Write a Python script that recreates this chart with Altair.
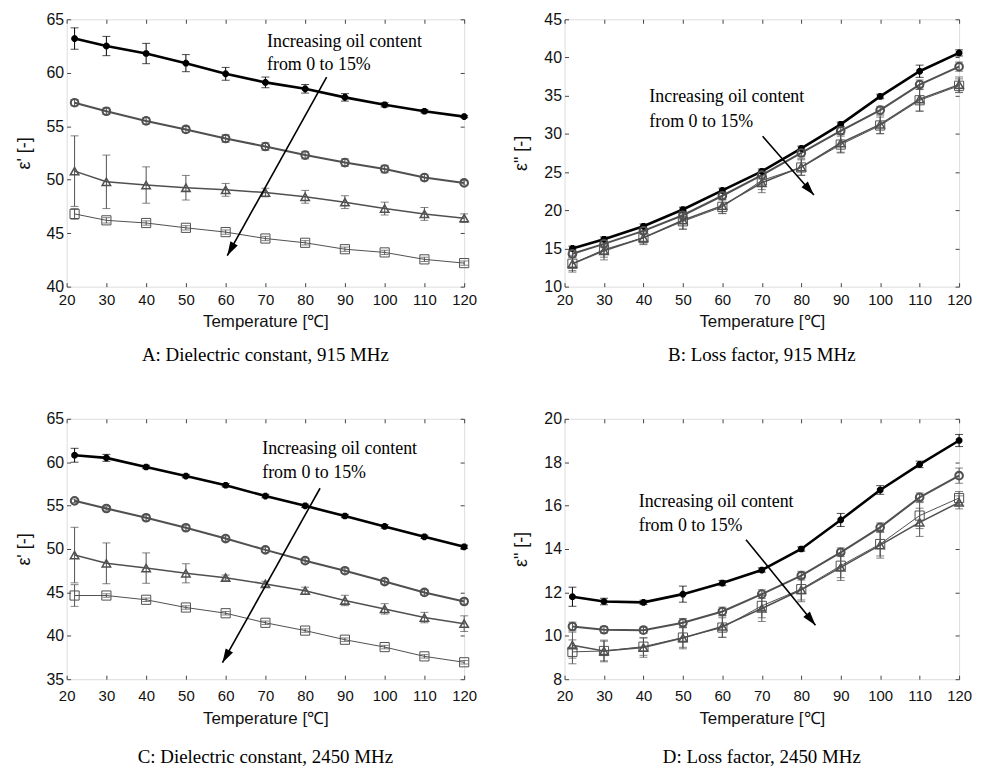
import math
import altair as alt
import pandas as pd

T = [22, 30, 40, 50, 60, 70, 80, 90, 100, 110, 120]
SERIES = ["0%", "5%", "10%", "15%"]
X_TICKS = [20, 30, 40, 50, 60, 70, 80, 90, 100, 110, 120]

# ---- Panel A: dielectric constant, 915 MHz
A_star = [63.2, 62.5, 61.8, 60.9, 59.9, 59.1, 58.5, 57.7, 57.0, 56.4, 55.9]
A_star_err = [1.0, 0.9, 0.95, 0.8, 0.6, 0.5, 0.4, 0.35, 0.2, 0.15, 0.1]
A_circ = [57.2, 56.4, 55.5, 54.7, 53.85, 53.1, 52.3, 51.6, 51.0, 50.2, 49.7]
A_circ_err = [0.3, 0.3, 0.3, 0.3, 0.35, 0.35, 0.35, 0.35, 0.35, 0.3, 0.2]
A_tri = [50.8, 49.8, 49.5, 49.25, 49.05, 48.8, 48.4, 47.9, 47.3, 46.8, 46.4]
A_tri_err = [3.3, 2.5, 1.7, 1.15, 0.6, 0.4, 0.6, 0.6, 0.6, 0.6, 0.4]
A_sq = [46.8, 46.2, 45.95, 45.5, 45.1, 44.5, 44.1, 43.5, 43.2, 42.55, 42.2]
A_sq_err = [0.5, 0.25, 0.2, 0.2, 0.2, 0.2, 0.2, 0.2, 0.2, 0.2, 0.2]

# ---- Panel B: loss factor, 915 MHz
B_star = [15.0, 16.2, 17.9, 20.1, 22.6, 25.1, 28.1, 31.25, 34.9, 38.2, 40.6]
B_star_err = [0.3, 0.3, 0.3, 0.3, 0.3, 0.3, 0.3, 0.3, 0.3, 0.8, 0.4]
B_circ = [14.3, 15.6, 17.3, 19.35, 21.9, 24.6, 27.5, 30.4, 33.1, 36.45, 38.8]
B_circ_err = [0.5, 0.5, 0.5, 0.5, 0.5, 0.5, 0.5, 0.5, 0.5, 0.6, 0.6]
B_tri = [13.0, 14.7, 16.4, 18.7, 20.6, 23.6, 25.65, 28.8, 31.25, 34.55, 36.45]
B_tri_err = [1.1, 1.2, 0.9, 1.2, 1.0, 1.3, 1.1, 1.2, 1.2, 1.6, 1.0]
B_sq = [13.0, 14.85, 16.4, 18.55, 20.45, 23.9, 25.6, 28.6, 31.1, 34.4, 36.3]
B_sq_err = [0.9, 1.0, 0.8, 1.0, 0.9, 1.2, 1.0, 1.1, 1.1, 1.4, 0.9]

# ---- Panel C: dielectric constant, 2450 MHz
C_star = [60.8, 60.5, 59.45, 58.4, 57.35, 56.1, 54.97, 53.8, 52.6, 51.4, 50.25]
C_star_err = [0.8, 0.4, 0.2, 0.2, 0.2, 0.2, 0.2, 0.2, 0.2, 0.2, 0.2]
C_circ = [55.55, 54.67, 53.6, 52.45, 51.2, 49.9, 48.66, 47.5, 46.25, 45.0, 43.95]
C_circ_err = [0.2, 0.2, 0.3, 0.3, 0.3, 0.3, 0.3, 0.3, 0.3, 0.3, 0.3]
C_tri = [49.3, 48.35, 47.8, 47.2, 46.7, 45.98, 45.2, 44.07, 43.1, 42.1, 41.4]
C_tri_err = [3.2, 2.35, 1.75, 1.1, 0.3, 0.3, 0.4, 0.6, 0.6, 0.6, 0.9]
C_sq = [44.64, 44.64, 44.15, 43.26, 42.6, 41.5, 40.6, 39.55, 38.7, 37.63, 36.95]
C_sq_err = [1.25, 0.2, 0.2, 0.2, 0.2, 0.2, 0.2, 0.2, 0.2, 0.2, 0.2]

# ---- Panel D: loss factor, 2450 MHz
D_star = [11.8, 11.58, 11.54, 11.92, 12.43, 13.03, 14.0, 15.34, 16.72, 17.9, 19.0]
D_star_err = [0.44, 0.15, 0.1, 0.37, 0.12, 0.1, 0.1, 0.3, 0.2, 0.15, 0.28]
D_circ = [10.43, 10.28, 10.26, 10.6, 11.12, 11.92, 12.77, 13.85, 15.0, 16.38, 17.38]
D_circ_err = [0.2, 0.15, 0.15, 0.2, 0.2, 0.2, 0.2, 0.2, 0.2, 0.2, 0.35]
D_tri = [9.57, 9.3, 9.46, 9.9, 10.43, 11.26, 12.12, 13.15, 14.18, 15.23, 16.15]
D_tri_err = [0.6, 0.5, 0.45, 0.5, 0.5, 0.6, 0.55, 0.6, 0.6, 0.65, 0.3]
D_sq = [9.26, 9.3, 9.5, 9.92, 10.38, 11.38, 12.15, 13.23, 14.23, 15.54, 16.35]
D_sq_err = [0.55, 0.45, 0.4, 0.45, 0.45, 0.55, 0.5, 0.55, 0.55, 0.6, 0.3]

NOTE = ["Increasing  oil content", "from 0 to 15%"]

SANS = "Liberation Sans, Arial"
SERIF = "Liberation Serif, Times New Roman"
AST = "M-1,0L1,0M0,-1L0,1M-0.7,-0.7L0.7,0.7M-0.7,0.7L0.7,-0.7"
CAP = "M-1,0L1,0"
HEAD = "M0,0L-0.6,2L0.6,2Z"


def panel(vals, errs, ydom, ystep, ytitle, caption, arrow, note_xy, W, H,
          xlabpad, xtitlepad, capoff):
    rows = []
    for s, v, e in zip(SERIES, vals, errs):
        for t, vv, ee in zip(T, v, e):
            rows.append({"series": s, "T": t, "v": vv, "lo": vv - ee, "hi": vv + ee})
    df = pd.DataFrame(rows)

    yvals = list(range(ydom[0], ydom[1] + 1, ystep))
    xs = alt.Scale(domain=[20, 120], nice=False, zero=False)
    ys = alt.Scale(domain=ydom, nice=False, zero=False)

    col = alt.Color("series:N", scale=alt.Scale(domain=SERIES, range=["#000000", "#505050", "#505050", "#505050"]), legend=None)
    base = alt.Chart(df)

    x_main = alt.X("T:Q", scale=xs, axis=alt.Axis(
        orient="bottom", values=X_TICKS, tickSize=4, offset=-4, domain=False,
        labelPadding=xlabpad, title="Temperature [℃]", titlePadding=xtitlepad,
        labelFont=SANS, labelFontSize=15, titleFont=SANS, titleFontSize=17,
        titleFontWeight="normal", labelColor="#111", titleColor="#111",
        tickColor="#444", grid=False, labelFlush=False))
    y_main = alt.Y("v:Q", scale=ys, axis=alt.Axis(
        orient="left", values=yvals, tickSize=4, offset=-4, domain=False,
        labelPadding=3, title=ytitle, titlePadding=13,
        labelFont=SANS, labelFontSize=16, titleFont=SANS, titleFontSize=18,
        titleFontWeight="normal", labelColor="#111", titleColor="#111",
        tickColor="#444", grid=False))

    lines = base.mark_line().encode(
        x=x_main, y=y_main, color=col,
        strokeWidth=alt.StrokeWidth("series:N", scale=alt.Scale(domain=SERIES, range=[2.6, 1, 1, 1]), legend=None),
        detail="series:N")

    x_top = alt.X("T:Q", scale=xs, axis=alt.Axis(
        orient="top", values=X_TICKS, tickSize=4, offset=-4, domain=False,
        labels=False, title=None, tickColor="#444", grid=False))
    y_right = alt.Y("v:Q", scale=ys, axis=alt.Axis(
        orient="right", values=yvals, tickSize=4, offset=-4, domain=False,
        labels=False, title=None, tickColor="#444", grid=False))
    ghost = base.mark_point(opacity=0).encode(x=x_top, y=y_right)

    xn = alt.X("T:Q", scale=xs, axis=None)

    rules = base.mark_rule(strokeWidth=1).encode(
        x=xn, y=alt.Y("lo:Q", scale=ys, axis=None), y2="hi:Q", color=col)
    caps_lo = base.mark_point(shape=CAP, size=64, filled=False, strokeWidth=1).encode(
        x=xn, y=alt.Y("lo:Q", scale=ys, axis=None), color=col)
    caps_hi = base.mark_point(shape=CAP, size=64, filled=False, strokeWidth=1).encode(
        x=xn, y=alt.Y("hi:Q", scale=ys, axis=None), color=col)
    pts = base.mark_point(filled=False, opacity=1).encode(
        x=xn, y=alt.Y("v:Q", scale=ys, axis=None), color=col,
        shape=alt.Shape("series:N", scale=alt.Scale(domain=SERIES, range=[AST, "circle", "triangle-up", "square"]), legend=None),
        size=alt.Size("series:N", scale=alt.Scale(domain=SERIES, range=[45, 85, 90, 65]), legend=None),
        strokeWidth=alt.StrokeWidth("series:N", scale=alt.Scale(domain=SERIES, range=[1.6, 0.9, 0.9, 0.9]), legend=None))

    (x1, y1), (x2, y2) = arrow
    dx = (x2 - x1) / 100 * W
    dy = -(y2 - y1) / (ydom[1] - ydom[0]) * H
    ang = math.degrees(math.atan2(dx, -dy)) % 360
    adf = pd.DataFrame({"x": [x1], "y": [y1], "x2": [x2], "y2": [y2]})
    arr_line = alt.Chart(adf).mark_rule(strokeWidth=1.6, color="#000").encode(
        x=alt.X("x:Q", scale=xs, axis=None), y=alt.Y("y:Q", scale=ys, axis=None),
        x2="x2:Q", y2="y2:Q")
    arr_head = alt.Chart(adf).mark_point(shape=HEAD, size=200, filled=True, color="#000", opacity=1, angle=ang).encode(
        x=alt.X("x2:Q", scale=xs, axis=None), y=alt.Y("y2:Q", scale=ys, axis=None))

    (tx, ty1, ty2) = note_xy
    ndf = pd.DataFrame({"x": [tx, tx], "y": [ty1, ty2], "t": NOTE})
    note = alt.Chart(ndf).mark_text(align="left", baseline="middle", font=SERIF, fontSize=18, color="#000").encode(
        x=alt.X("x:Q", scale=xs, axis=None), y=alt.Y("y:Q", scale=ys, axis=None), text="t:N")

    ch = alt.layer(lines, ghost, rules, caps_lo, caps_hi, pts, arr_line, arr_head, note).resolve_axis(
        x="independent", y="independent").properties(
        width=W, height=H,
        title=alt.TitleParams(caption, orient="bottom", font=SERIF, fontSize=19, fontWeight="normal",
                              color="#000", offset=capoff, anchor="middle"))
    return ch


A = panel([A_star, A_circ, A_tri, A_sq], [A_star_err, A_circ_err, A_tri_err, A_sq_err],
          [40, 65], 5, "ε' [-]", "A: Dielectric constant, 915 MHz",
          ((85.4, 59.6), (60.4, 42.9)), (70.4, 62.9, 60.7), 400, 269, 6, 6, 17)
B = panel([B_star, B_circ, B_tri, B_sq], [B_star_err, B_circ_err, B_tri_err, B_sq_err],
          [10, 45], 5, 'ε" [-]', "B: Loss factor, 915 MHz",
          ((70.2, 29.7), (83.2, 22.0)), (41.5, 34.8, 31.5), 397, 269, 6, 6, 17)
C = panel([C_star, C_circ, C_tri, C_sq], [C_star_err, C_circ_err, C_tri_err, C_sq_err],
          [35, 65], 5, "ε' [-]", "C: Dielectric constant, 2450 MHz",
          ((83.75, 57.0), (59.2, 36.9)), (69.2, 61.5, 58.7), 400, 262, 9, 8, 21)
D = panel([D_star, D_circ, D_tri, D_sq], [D_star_err, D_circ_err, D_tri_err, D_sq_err],
          [8, 20], 2, 'ε" [-]', "D: Loss factor, 2450  MHz",
          ((66.0, 14.43), (83.6, 10.49)), (38.8, 16.15, 15.08), 397, 262, 9, 8, 21)

top = alt.hconcat(A, B, spacing=34)
bottom = alt.hconcat(C, D, spacing=34)
chart = alt.vconcat(top, bottom, spacing=44).properties(
    padding={"left": 6, "top": 0, "right": 0, "bottom": 0}
).configure_view(stroke="#444", strokeWidth=1).configure(background="white")

chart.save("out.html", embed_options={"renderer": "svg", "actions": False})
